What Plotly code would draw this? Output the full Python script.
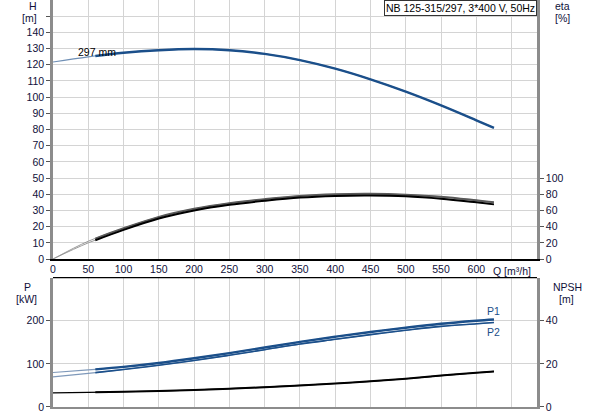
import plotly.graph_objects as go

q = [0, 50, 100, 150, 200, 250, 300, 350, 400, 450, 500, 550, 600, 625]

# head curve, 297 mm impeller
head = [121.7, 124.9, 127.4, 129.0, 129.7, 129.0, 126.7, 122.9, 117.6, 111.0, 103.4, 94.9, 85.7, 81.0]

# efficiency [%]
eta_1 = [0, 22, 38, 52, 62, 69, 74, 78, 80, 80.5, 79.5, 77, 72.5, 70]
eta_2 = [0, 20, 36, 50, 60, 67, 72, 76, 78, 78.5, 77.5, 74.5, 70, 67.5]

# power [kW]
p1 = [80, 86, 93, 102, 113, 125, 138, 151, 163, 174, 184, 193, 200, 203]
p2 = [70, 78, 87, 97, 108, 120, 133, 146, 157, 168, 178, 187, 193, 196]

# NPSH [m]
npsh = [6.6, 6.8, 7.1, 7.4, 7.9, 8.5, 9.2, 10.0, 10.9, 11.9, 13.1, 14.6, 15.9, 16.5]

x_ticks = [0, 50, 100, 150, 200, 250, 300, 350, 400, 450, 500, 550, 600, 650]
h_ticks = [0, 10, 20, 30, 40, 50, 60, 70, 80, 90, 100, 110, 120, 130, 140, 150]
eta_ticks = [0, 20, 40, 60, 80, 100]
p_ticks = [0, 100, 200]
npsh_ticks = [0, 20, 40]

BLUE = "#1b4f8a"
TXT = "#10103a"
GRID = "#d4d4d4"
SPINE = "#8c8c8c"
FONT = "Liberation Sans, Arial, sans-serif"

# heavy part of each curve starts at q=60, before that only a thin guide line
Q_START = 60
q_h = [Q_START] + q[2:]


def interp(xs, ys, x):
    for i in range(len(xs) - 1):
        if xs[i] <= x <= xs[i + 1]:
            t = (x - xs[i]) / (xs[i + 1] - xs[i])
            return ys[i] + t * (ys[i + 1] - ys[i])
    return ys[-1]


def heavy(ys):
    return [interp(q, ys, Q_START)] + ys[2:]


fig = go.Figure()

# --- top panel: head + efficiency
fig.add_trace(go.Scatter(x=q, y=head, mode="lines", line=dict(color="#6f8fb5", width=1.2, shape="spline"),
                         xaxis="x", yaxis="y", hoverinfo="skip"))
fig.add_trace(go.Scatter(x=q_h, y=heavy(head), mode="lines", line=dict(color=BLUE, width=2.4, shape="spline"),
                         xaxis="x", yaxis="y"))

for ys, c in [(eta_1, "#5a5a5a"), (eta_2, "#000000")]:
    fig.add_trace(go.Scatter(x=q, y=ys, mode="lines", line=dict(color="#9a9a9a", width=1.0, shape="spline"),
                             xaxis="x", yaxis="y2", hoverinfo="skip"))
    fig.add_trace(go.Scatter(x=q_h, y=heavy(ys), mode="lines", line=dict(color=c, width=2.0, shape="spline"),
                             xaxis="x", yaxis="y2"))

# --- bottom panel: power + NPSH
for ys, w in [(p1, 2.4), (p2, 1.6)]:
    fig.add_trace(go.Scatter(x=q, y=ys, mode="lines", line=dict(color="#7f99ba", width=1.2, shape="spline"),
                             xaxis="x2", yaxis="y3", hoverinfo="skip"))
    fig.add_trace(go.Scatter(x=q_h, y=heavy(ys), mode="lines", line=dict(color=BLUE, width=w, shape="spline"),
                             xaxis="x2", yaxis="y3"))

fig.add_trace(go.Scatter(x=q, y=npsh, mode="lines", line=dict(color="#000000", width=1.2, shape="spline"),
                         xaxis="x2", yaxis="y4", hoverinfo="skip"))
fig.add_trace(go.Scatter(x=q_h, y=heavy(npsh), mode="lines", line=dict(color="#000000", width=2.0, shape="spline"),
                         xaxis="x2", yaxis="y4"))

tick_font = dict(family=FONT, size=10.5, color=TXT)
common_x = dict(range=[0, 686], tickvals=x_ticks, showgrid=True, gridcolor=GRID, gridwidth=1.3,
                zeroline=False, ticks="", tickfont=tick_font)

fig.update_layout(
    width=593, height=415,
    margin=dict(l=53, r=56, t=0, b=8),
    paper_bgcolor="white", plot_bgcolor="white",
    showlegend=False,
    font=dict(family=FONT, size=10.5, color=TXT),
    xaxis=dict(common_x, domain=[0, 1], anchor="y", showline=True, linecolor="#000000", linewidth=1.5,
               ticktext=[str(v) for v in x_ticks[:-1]] + [""]),
    xaxis2=dict(common_x, domain=[0, 1], anchor="y3", matches="x", showticklabels=False,
                showline=True, linecolor=SPINE, linewidth=1.5),
    yaxis=dict(domain=[0.3636, 1], range=[0, 160], tickvals=h_ticks,
               ticktext=[str(v) for v in h_ticks[:-1]] + [""],
               showgrid=True, gridcolor=GRID, gridwidth=1.3, zeroline=False,
               showline=True, linecolor=SPINE, linewidth=2.5,
               ticks="outside", ticklen=4, tickcolor="#555555", tickfont=tick_font),
    yaxis2=dict(overlaying="y", side="right", anchor="x", range=[0, 320], tickvals=eta_ticks,
                showgrid=False, zeroline=False, showline=True, linecolor=SPINE, linewidth=2.5,
                ticks="outside", ticklen=4, tickcolor="#555555", tickfont=tick_font),
    yaxis3=dict(domain=[0, 0.3177], anchor="x2", range=[0, 300], tickvals=p_ticks,
                showgrid=True, gridcolor=GRID, gridwidth=1.3, zeroline=False,
                showline=True, linecolor=SPINE, linewidth=2.5,
                ticks="outside", ticklen=4, tickcolor="#555555", tickfont=tick_font),
    yaxis4=dict(overlaying="y3", side="right", anchor="x2", range=[0, 60], tickvals=npsh_ticks,
                showgrid=False, zeroline=False, showline=True, linecolor=SPINE, linewidth=2.5,
                ticks="outside", ticklen=4, tickcolor="#555555", tickfont=tick_font),
)

# black frame line on top of the lower panel
fig.add_shape(type="line", xref="x2 domain", yref="y3 domain", x0=0, x1=1, y0=1, y1=1,
              line=dict(color="#000000", width=1.3))

ann = [
    ("H", 0.0, 1.0, "right", "top", -14, 2),
    ("[m]", 0.0, 1.0, "right", "top", -14, -10),
    ("eta", 1.0, 1.0, "left", "top", 16, 2),
    ("[%]", 1.0, 1.0, "left", "top", 16, -10),
    ("P", 0.0, 0.3177, "right", "top", -20, -1),
    ("[kW]", 0.0, 0.3177, "right", "top", -14, -13),
    ("NPSH", 1.0, 0.3177, "left", "top", 14, -1),
    ("[m]", 1.0, 0.3177, "left", "top", 20, -13),
]
for text, xp, yp, xa, ya, dx, dy in ann:
    fig.add_annotation(text=text, xref="paper", yref="paper", x=xp, y=yp, xanchor=xa, yanchor=ya,
                       xshift=dx, yshift=dy, showarrow=False, font=dict(family=FONT, size=10.5, color=TXT))

fig.add_annotation(text="Q [m³/h]", xref="x", yref="paper", x=650, y=0.3636, yanchor="top", yshift=-4,
                   showarrow=False, font=dict(family=FONT, size=10.5, color=TXT))
fig.add_annotation(text="297 mm", xref="x", yref="y", x=q[1] + 12, y=head[1], yanchor="bottom", yshift=-3,
                   showarrow=False, font=dict(family=FONT, size=10.5, color="#000000"))
fig.add_annotation(text="P1", xref="x", yref="y3", x=q[-1], y=p1[-1], xanchor="center", yanchor="bottom",
                   yshift=1, showarrow=False, font=dict(family=FONT, size=10.5, color=BLUE))
fig.add_annotation(text="P2", xref="x", yref="y3", x=q[-1], y=p2[-1], xanchor="center", yanchor="top",
                   yshift=-1, showarrow=False, font=dict(family=FONT, size=10.5, color=BLUE))
fig.add_annotation(text="NB 125-315/297, 3*400 V, 50Hz", xref="paper", yref="paper", x=1.0, y=1.0,
                   xanchor="right", yanchor="top", showarrow=False, bgcolor="white",
                   bordercolor="#333333", borderwidth=1, borderpad=1,
                   font=dict(family=FONT, size=10.5, color="#000000"))

# page has a default 8px body margin, drop it so the figure sits at the corner
fig.write_html("out.html", config={"displayModeBar": False},
               post_script="document.body.style.margin='0';")
